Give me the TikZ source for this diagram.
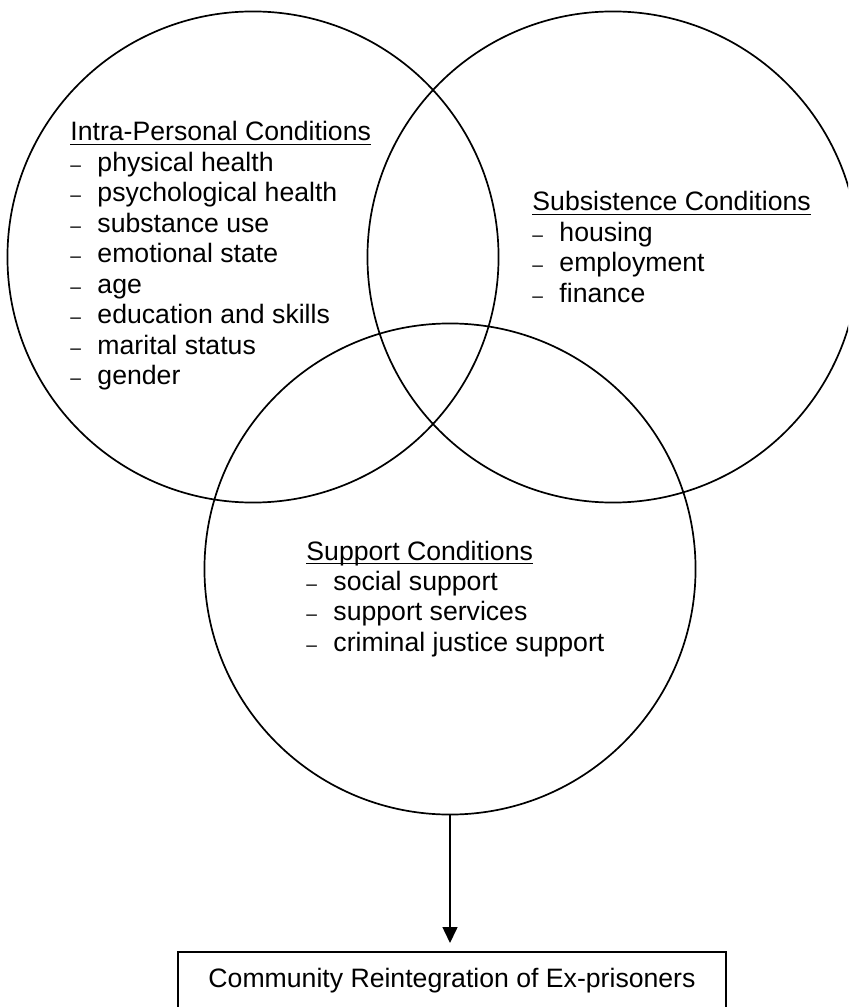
\documentclass[tikz,border=0pt]{standalone}
\usepackage{fontspec}
\setmainfont{Liberation Sans}
\usepackage{tikz}
\usetikzlibrary{positioning,calc}
\usetikzlibrary{arrows.meta}
\newcommand{\condHead}[1]{\setbox0\hbox{#1}\rlap{\rule[-2pt]{\wd0}{0.8pt}}\box0}
\newcommand{\condItem}[1]{\makebox[12.7pt][l]{\small --}#1}
\tikzset{
	ring/.style={circle,draw=black,line width=0.8pt,minimum size=8.1cm,inner sep=0pt,outer sep=0pt},
	group/.style={anchor=base west,inner sep=0pt,font=\fontsize{12.5}{14.3}\selectfont},
	outcome/.style={draw=black,line width=0.8pt,minimum width=9.04cm,minimum height=0.95cm,
		inner sep=0pt,font=\fontsize{12.5}{14.3}\selectfont},
	flow/.style={draw=black,line width=0.8pt,-{Triangle[width=7pt,length=7.5pt]}},
}

\begin{document}
\begin{tikzpicture}[x=0.0165cm,y=-0.0165cm]
			\clip (0,0) rectangle (848,1007);
			% the three overlapping conditions
			\node[ring] (intra) at (253,257) {};
			\node[ring] (subsist) at (613,257) {};
			\node[ring] (support) at (450,569) {};
			\node[group] (intralist) at (70,141) {\begin{tabular}[t]{@{}l@{}}
				\condHead{Intra-Personal Conditions}\\
				\condItem{physical health}\\
				\condItem{psychological health}\\
				\condItem{substance use}\\
				\condItem{emotional state}\\
				\condItem{age}\\
				\condItem{education and skills}\\
				\condItem{marital status}\\
				\condItem{gender}
			\end{tabular}};
			\node[group] (subsistlist) at (532,211) {\begin{tabular}[t]{@{}l@{}}
				\condHead{Subsistence Conditions}\\
				\condItem{housing}\\
				\condItem{employment}\\
				\condItem{finance}
			\end{tabular}};
			\node[group] (supportlist) at (306,560) {\begin{tabular}[t]{@{}l@{}}
				\condHead{Support Conditions}\\
				\condItem{social support}\\
				\condItem{support services}\\
				\condItem{criminal justice support}
			\end{tabular}};
			% outcome
			\node[outcome,anchor=north] (result) at (452,951) {Community Reintegration of Ex-prisoners};
			\draw[flow,shorten >=3.75pt] (support.south) -- (support.south |- result.north);
		\end{tikzpicture}
\end{document}
